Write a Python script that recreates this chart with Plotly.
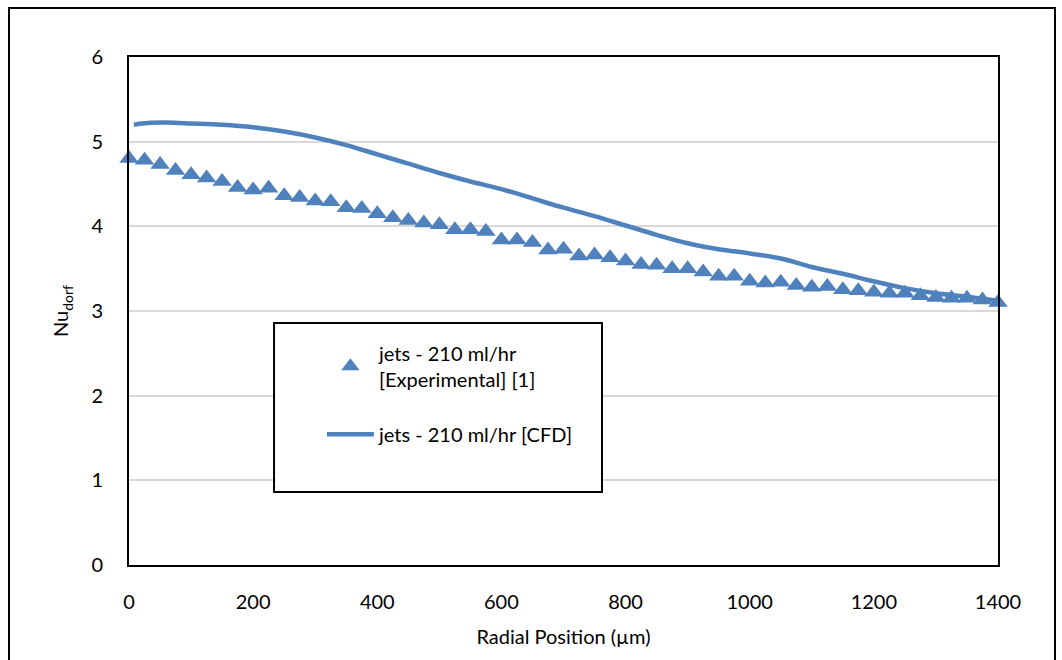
import plotly.graph_objects as go

exp_x = [0, 25, 50, 75, 100, 125, 150, 175, 200, 225, 250, 275, 300, 325, 350, 375, 400, 425,
         450, 475, 500, 525, 550, 575, 600, 625, 650, 675, 700, 725, 750, 775, 800, 825, 850,
         875, 900, 925, 950, 975, 1000, 1025, 1050, 1075, 1100, 1125, 1150, 1175, 1200, 1225,
         1250, 1275, 1300, 1325, 1350, 1375, 1400]
exp_y = [4.80, 4.78, 4.73, 4.66, 4.61, 4.57, 4.53, 4.46, 4.43, 4.45, 4.36, 4.34, 4.30, 4.29,
         4.22, 4.21, 4.15, 4.10, 4.07, 4.04, 4.02, 3.96, 3.96, 3.94, 3.84, 3.84, 3.81, 3.72,
         3.73, 3.65, 3.66, 3.63, 3.59, 3.55, 3.54, 3.50, 3.50, 3.46, 3.41, 3.41, 3.35, 3.33,
         3.34, 3.30, 3.28, 3.29, 3.25, 3.24, 3.22, 3.21, 3.21, 3.18, 3.16, 3.15, 3.15, 3.13, 3.10]

cfd_x = [8, 30, 60, 100, 150, 200, 250, 300, 350, 400, 450, 500, 550, 600, 650, 700, 750, 800,
         850, 900, 950, 1000, 1050, 1100, 1150, 1200, 1250, 1300, 1350, 1400]
cfd_y = [5.20, 5.22, 5.225, 5.215, 5.20, 5.17, 5.12, 5.05, 4.96, 4.85, 4.74, 4.63, 4.53, 4.44,
         4.33, 4.22, 4.12, 4.01, 3.90, 3.80, 3.73, 3.68, 3.62, 3.52, 3.44, 3.35, 3.27, 3.21,
         3.17, 3.12]

x_ticks = [0, 200, 400, 600, 800, 1000, 1200, 1400]
y_ticks = [0, 1, 2, 3, 4, 5, 6]

BLUE = "#4f81bd"
FONT = "Lato"

fig = go.Figure()
fig.add_trace(go.Scatter(
    x=exp_x, y=exp_y, mode="markers", legendgroup="exp", cliponaxis=False,
    name="jets - 210 ml/hr<br>[Experimental] [1]",
    marker=dict(symbol="triangle-up", size=17, color=BLUE),
))
fig.add_trace(go.Scatter(
    x=cfd_x, y=cfd_y, mode="lines", line_shape="spline", legendgroup="cfd",
    name="jets - 210 ml/hr [CFD]",
    line=dict(color=BLUE, width=4.5),
))

fig.update_layout(
    width=1062, height=660,
    margin=dict(l=129, r=64, t=57, b=95),
    paper_bgcolor="white", plot_bgcolor="white",
    font=dict(family=FONT, size=20, color="#000000"),
    showlegend=True,
    legend=dict(
        x=0.222, y=0.455, xanchor="left", yanchor="top",
        bgcolor="rgba(0,0,0,0)", borderwidth=0,
        font=dict(family=FONT, size=20, color="#000000"),
        tracegroupgap=26, itemwidth=47,
    ),
    xaxis=dict(
        range=[0, 1400], tickvals=x_ticks, ticktext=[str(v) for v in x_ticks],
        showgrid=False, zeroline=False,
        showline=True, linecolor="black", linewidth=2, mirror=True,
        ticks="", ticklabelstandoff=18,
        title=dict(text="Radial Position (\u00b5m)", standoff=18,
                   font=dict(family=FONT, size=20)),
    ),
    yaxis=dict(
        range=[0, 6], tickvals=y_ticks, ticktext=[str(v) for v in y_ticks],
        showgrid=True, gridcolor="#d9d9d9", gridwidth=2, zeroline=False,
        showline=True, linecolor="black", linewidth=2, mirror=True,
        ticks="", ticklabelstandoff=20,
        title=dict(text="Nu<sub>dorf</sub>", standoff=17,
                   font=dict(family=FONT, size=20)),
    ),
    shapes=[
        dict(type="rect", xref="paper", yref="paper",
             x0=0.1669, x1=0.5443, y0=0.1437, y1=0.4764,
             line=dict(color="black", width=2), fillcolor="white", layer="above"),
        dict(type="rect", xref="paper", yref="paper",
             x0=-0.1381, x1=1.0656, y0=-0.25, y1=1.0965,
             line=dict(color="black", width=2), fillcolor="rgba(0,0,0,0)"),
    ],
)

fig.write_html("out.html")
